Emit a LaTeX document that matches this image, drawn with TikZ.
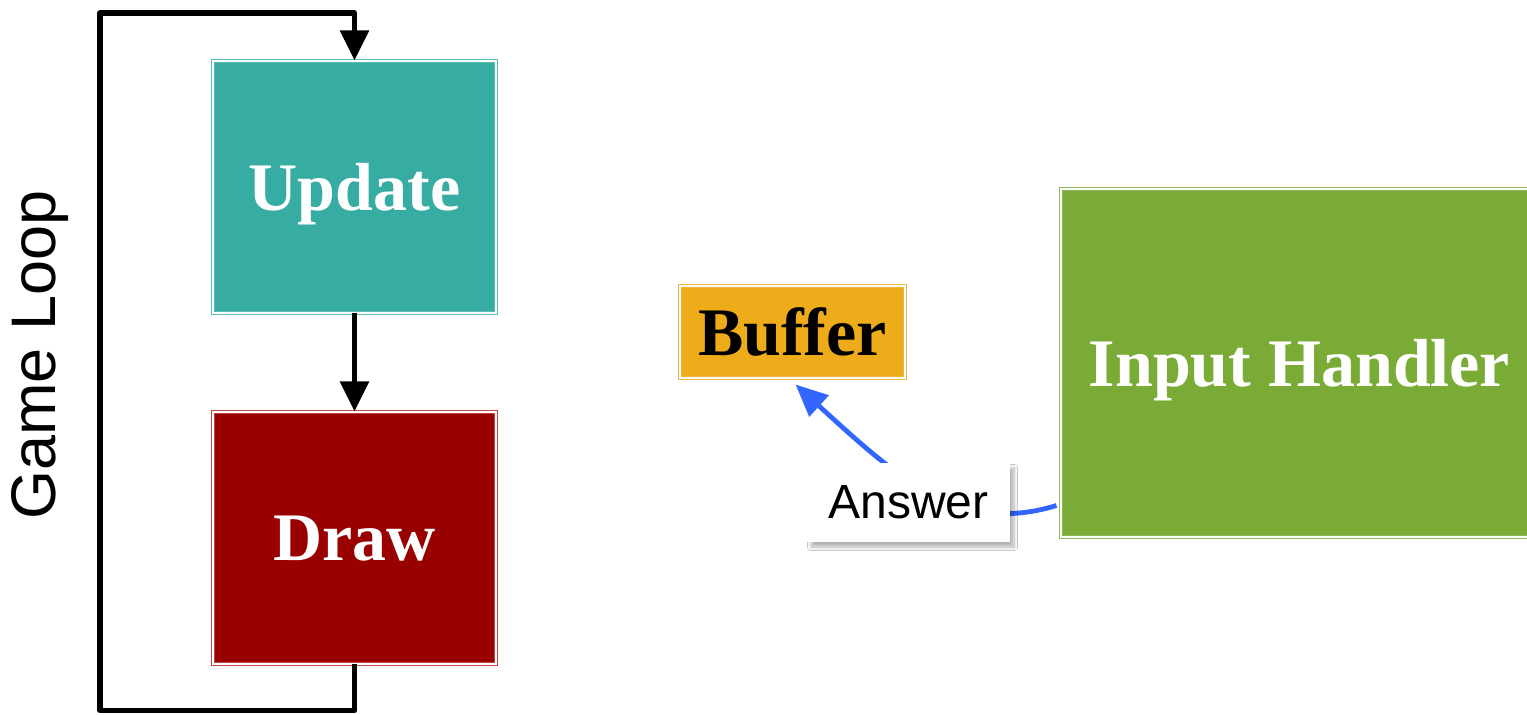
\documentclass[tikz,border=0pt]{standalone}
\usepackage{fontspec}
\setmainfont{Liberation Serif}
\newfontfamily\sansf{Liberation Sans}
\usetikzlibrary{arrows.meta,calc,shadows.blur}
\definecolor{updfill}{HTML}{37ACA3}
\definecolor{updline}{HTML}{5DBDB5}
\definecolor{drwfill}{HTML}{990000}
\definecolor{drwline}{HTML}{C04848}
\definecolor{buffill}{HTML}{EEAB1A}
\definecolor{bufline}{HTML}{F0B440}
\definecolor{ihfill}{HTML}{7AAB36}
\definecolor{ihline}{HTML}{8DB85A}
\definecolor{conblue}{HTML}{3366FF}
\tikzset{
  stagebox/.style={rectangle, line width=0.5pt, double=white, double distance=1.2pt,
    font=\fontsize{34}{38}\selectfont\bfseries, inner sep=0pt, text depth=0pt},
  loopline/.style={line width=2.75pt, line join=round, -{Triangle[length=15pt,width=14pt]}},
  answerline/.style={line width=2.4pt, draw=conblue, -{Triangle[length=16pt,width=14pt]}},
  answerlabel/.style={fill=white, font=\sansf\fontsize{24}{28}\selectfont,
    minimum width=101.5pt, minimum height=39.5pt, inner sep=0pt,
    blur shadow={shadow blur steps=8, shadow xshift=2pt, shadow yshift=-2.5pt, shadow opacity=30}}
}
\begin{document}
\begin{tikzpicture}[x=0.5pt,y=-0.5pt]
\useasboundingbox (0,0) rectangle (1527,715);
\fill[white] (0,0) rectangle (1527,715);

\node[stagebox, fill=updfill, draw=updline, text=white,
  minimum width=141.5pt, minimum height=126pt] (upd) at (354.5,187) {Update};
\node[stagebox, fill=drwfill, draw=drwline, text=white,
  minimum width=141.5pt, minimum height=126pt] (drw) at (354.5,538) {Draw};
\node[stagebox, fill=buffill, draw=bufline, text=black,
  minimum width=112.5pt, minimum height=46pt] (buf) at (792.5,332) {Buffer};
\node[stagebox, fill=ihfill, draw=ihline, text=white,
  minimum width=238.5pt, minimum height=174pt] (ih) at (1299.5,363) {Input Handler};

\node[rotate=90, font=\sansf\fontsize{31.5}{36}\selectfont] (gl) at (40,355) {Game Loop};

\coordinate (lt) at (100,13);
\draw[loopline] (drw.south) -- ++(0,46) -| (lt) -| (upd.north);
\draw[loopline] (upd.south) -- (drw.north);

\draw[answerline] ($(ih.south west)+(-4,-32)$) .. controls (960,535) and (900,480) .. ($(buf.south)+(3,6)$);
\node[answerlabel] (ans) at (908.5,502.5) {Answer};
\end{tikzpicture}
\end{document}
